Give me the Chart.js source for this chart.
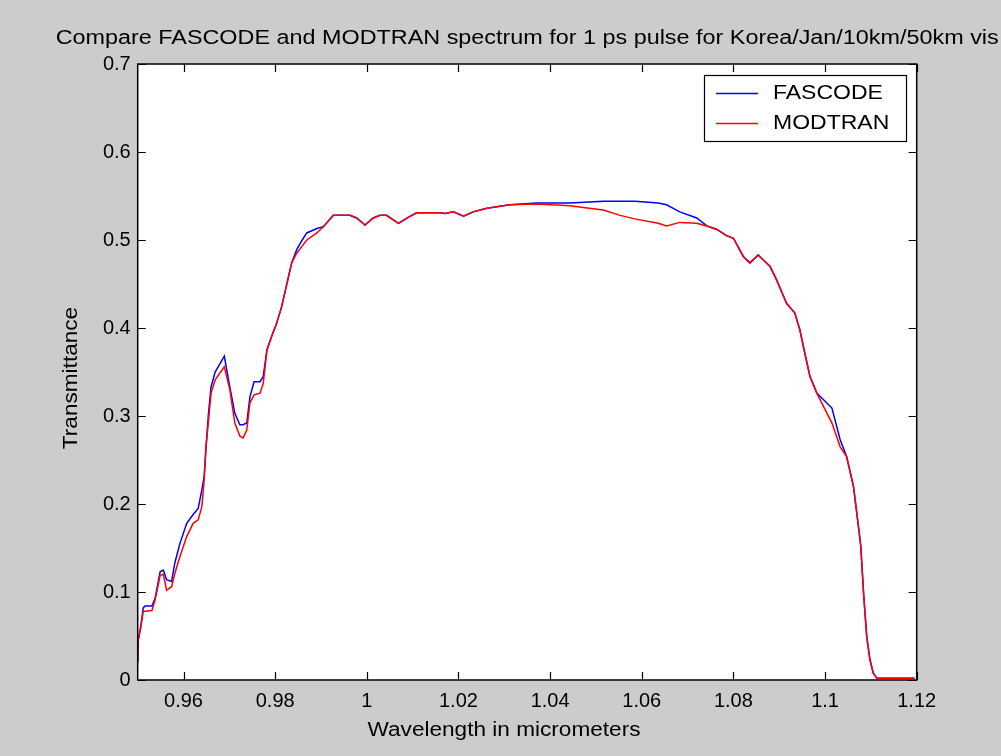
<!DOCTYPE html>
<html>
<head>
<meta charset="utf-8">
<script src="https://cdn.jsdelivr.net/npm/chart.js@4/dist/chart.umd.min.js"></script>
<style>
  html, body { margin: 0; padding: 0; background: #cccccc; }
  canvas { display: block; }
</style>
</head>
<body>
<canvas id="spectrumChart" width="1001" height="756"></canvas>
<script>
// wavelength in micrometers, shared by both series
const wavelength = [
  0.9500, 0.9501, 0.9507, 0.9512, 0.9516, 0.9531, 0.9538, 0.9549, 0.9556, 0.9563,
  0.9574, 0.9581, 0.9592, 0.9607, 0.9621, 0.9632, 0.9640, 0.9645, 0.9649, 0.9654,
  0.9660, 0.9669, 0.9689, 0.9701, 0.9712, 0.9723, 0.9730, 0.9738, 0.9745, 0.9754,
  0.9767, 0.9774, 0.9782, 0.9792, 0.9803, 0.9814, 0.9825, 0.9836, 0.9847, 0.9859,
  0.9869, 0.9891, 0.9905, 0.9927, 0.9963, 0.9978, 0.9996, 1.0014, 1.0029, 1.0043,
  1.0069, 1.0091, 1.0109, 1.0160, 1.0171, 1.0189, 1.0211, 1.0232, 1.0262, 1.0312,
  1.0371, 1.0443, 1.0516, 1.0553, 1.0585, 1.0636, 1.0654, 1.0683, 1.0720, 1.0742,
  1.0764, 1.0785, 1.0800, 1.0822, 1.0836, 1.0854, 1.0880, 1.0894, 1.0916, 1.0934,
  1.0945, 1.0956, 1.0967, 1.0982, 1.1015, 1.1033, 1.1047, 1.1062, 1.1073, 1.1078,
  1.1084, 1.1091, 1.1098, 1.1105, 1.1113, 1.1195
];

const fascode = [
  0.020, 0.045, 0.062, 0.082, 0.084, 0.084, 0.093, 0.123, 0.125, 0.114,
  0.112, 0.133, 0.155, 0.178, 0.188, 0.195, 0.216, 0.231, 0.264, 0.300,
  0.333, 0.350, 0.368, 0.333, 0.303, 0.290, 0.290, 0.292, 0.322, 0.339,
  0.339, 0.345, 0.375, 0.390, 0.405, 0.424, 0.449, 0.474, 0.489, 0.500,
  0.508, 0.513, 0.515, 0.528, 0.528, 0.525, 0.517, 0.525, 0.528, 0.528,
  0.519, 0.526, 0.531, 0.531, 0.530, 0.532, 0.527, 0.532, 0.536, 0.540,
  0.542, 0.542, 0.544, 0.544, 0.544, 0.542, 0.540, 0.532, 0.525, 0.516,
  0.512, 0.505, 0.502, 0.481, 0.474, 0.483, 0.470, 0.455, 0.428, 0.417,
  0.398, 0.371, 0.345, 0.326, 0.309, 0.273, 0.254, 0.220, 0.174, 0.152,
  0.099, 0.049, 0.023, 0.008, 0.002, 0.002
];

const modtran = [
  0.020, 0.045, 0.060, 0.078, 0.078, 0.079, 0.091, 0.119, 0.120, 0.102,
  0.106, 0.121, 0.140, 0.163, 0.178, 0.182, 0.197, 0.227, 0.264, 0.292,
  0.326, 0.341, 0.356, 0.330, 0.292, 0.277, 0.275, 0.284, 0.315, 0.324,
  0.326, 0.337, 0.375, 0.390, 0.405, 0.424, 0.449, 0.474, 0.485, 0.493,
  0.500, 0.508, 0.515, 0.528, 0.528, 0.525, 0.517, 0.525, 0.528, 0.528,
  0.519, 0.526, 0.531, 0.531, 0.530, 0.532, 0.527, 0.532, 0.536, 0.540,
  0.541, 0.539, 0.534, 0.528, 0.524, 0.519, 0.516, 0.520, 0.519, 0.516,
  0.512, 0.505, 0.502, 0.481, 0.474, 0.483, 0.470, 0.455, 0.428, 0.417,
  0.398, 0.371, 0.345, 0.326, 0.292, 0.265, 0.254, 0.220, 0.174, 0.152,
  0.099, 0.049, 0.023, 0.008, 0.002, 0.002
];

const xTickValues = [0.96, 0.98, 1.00, 1.02, 1.04, 1.06, 1.08, 1.10, 1.12];
const yTickValues = [0, 0.1, 0.2, 0.3, 0.4, 0.5, 0.6, 0.7];

const titleText = "Compare FASCODE and MODTRAN spectrum for 1 ps pulse for Korea/Jan/10km/50km vis";
const xTitle = "Wavelength in micrometers";
const yTitle = "Transmittance";

const FONT = '"Liberation Sans", Arial, Helvetica, sans-serif';
const STRETCH = 1.13; // the original screen font runs wider than Arial

function fmt(v) {
  return String(parseFloat(v.toFixed(2)));
}

// draw text squeezed/stretched horizontally around its anchor
function wideText(c, text, x, y, sx, align) {
  c.save();
  c.translate(x, y);
  c.scale(sx, 1);
  c.textAlign = align;
  c.fillText(text, 0, 0);
  c.restore();
}

// matlab style frame: gray figure, white axes, inward ticks on all sides, legend box
const matlabFrame = {
  id: "matlabFrame",
  beforeDraw(chart) {
    const c = chart.ctx;
    const a = chart.chartArea;
    c.save();
    c.fillStyle = "#cccccc";
    c.fillRect(0, 0, chart.width, chart.height);
    c.fillStyle = "#ffffff";
    c.fillRect(a.left, a.top, a.right - a.left, a.bottom - a.top);
    c.restore();
  },
  afterDraw(chart) {
    const c = chart.ctx;
    const a = chart.chartArea;
    const xs = chart.scales.x;
    const ys = chart.scales.y;
    const tick = 8;
    c.save();
    c.strokeStyle = "#000000";
    c.lineWidth = 1.5;
    c.strokeRect(a.left, a.top, a.right - a.left, a.bottom - a.top);

    c.beginPath();
    xTickValues.forEach(function (v) {
      const px = Math.round(xs.getPixelForValue(v)) + 0.5;
      c.moveTo(px, a.bottom); c.lineTo(px, a.bottom - tick);
      c.moveTo(px, a.top); c.lineTo(px, a.top + tick);
    });
    yTickValues.forEach(function (v) {
      const py = Math.round(ys.getPixelForValue(v)) + 0.5;
      c.moveTo(a.left, py); c.lineTo(a.left + tick, py);
      c.moveTo(a.right, py); c.lineTo(a.right - tick, py);
    });
    c.lineWidth = 1.2;
    c.stroke();

    // title and axis labels
    c.fillStyle = "#000000";
    c.font = "20px " + FONT;
    c.textBaseline = "middle";
    const titleFit = 943 / c.measureText(titleText).width;
    wideText(c, titleText, (a.left + a.right) / 2, 38, titleFit, "center");
    wideText(c, xTitle, 504, 730, STRETCH, "center");
    c.save();
    c.translate(71, 378);
    c.rotate(-Math.PI / 2);
    wideText(c, yTitle, 0, 0, STRETCH, "center");
    c.restore();

    // legend
    const lx = 704, ly = 75, lw = 202, lh = 66;
    c.fillStyle = "#ffffff";
    c.fillRect(lx, ly, lw, lh);
    c.strokeStyle = "#000000";
    c.lineWidth = 1.2;
    c.strokeRect(lx + 0.5, ly + 0.5, lw, lh);
    chart.data.datasets.forEach(function (ds, i) {
      const yy = 93.5 + i * 30;
      c.strokeStyle = ds.borderColor;
      c.lineWidth = 1.5;
      c.beginPath();
      c.moveTo(716, yy); c.lineTo(758, yy);
      c.stroke();
      c.fillStyle = "#000000";
      wideText(c, ds.label, 773, yy, 1.15, "left");
    });
    c.restore();
  }
};

const ctx = document.getElementById("spectrumChart").getContext("2d");

new Chart(ctx, {
  type: "line",
  data: {
    datasets: [
      {
        label: "FASCODE",
        data: wavelength.map(function (w, i) { return { x: w, y: fascode[i] }; }),
        borderColor: "#0000ff",
        borderWidth: 1.5,
        pointRadius: 0,
        tension: 0,
        fill: false,
        order: 1
      },
      {
        label: "MODTRAN",
        data: wavelength.map(function (w, i) { return { x: w, y: modtran[i] }; }),
        borderColor: "#ff0000",
        borderWidth: 1.5,
        pointRadius: 0,
        tension: 0,
        fill: false,
        order: 0
      }
    ]
  },
  options: {
    responsive: false,
    animation: false,
    layout: { padding: { top: 64, right: 84.3, left: 0, bottom: 0 } },
    plugins: {
      legend: { display: false },
      title: { display: false },
      tooltip: { enabled: false }
    },
    scales: {
      x: {
        type: "linear",
        min: 0.95,
        max: 1.12,
        afterBuildTicks: function (scale) {
          scale.ticks = xTickValues.map(function (v) { return { value: v }; });
        },
        afterFit: function (scale) { scale.height = 76; },
        grid: { display: false, drawTicks: false },
        border: { display: false },
        ticks: {
          color: "#000000",
          padding: 9,
          maxRotation: 0,
          autoSkip: false,
          font: { family: FONT, size: 20 },
          callback: function (v) { return fmt(v); }
        }
      },
      y: {
        type: "linear",
        min: 0,
        max: 0.7,
        afterBuildTicks: function (scale) {
          scale.ticks = yTickValues.map(function (v) { return { value: v }; });
        },
        afterFit: function (scale) { scale.width = 137.7; },
        grid: { display: false, drawTicks: false },
        border: { display: false },
        ticks: {
          color: "#000000",
          padding: 7,
          autoSkip: false,
          font: { family: FONT, size: 20 },
          callback: function (v) { return fmt(v); }
        }
      }
    }
  },
  plugins: [matlabFrame]
});
</script>
</body>
</html>
